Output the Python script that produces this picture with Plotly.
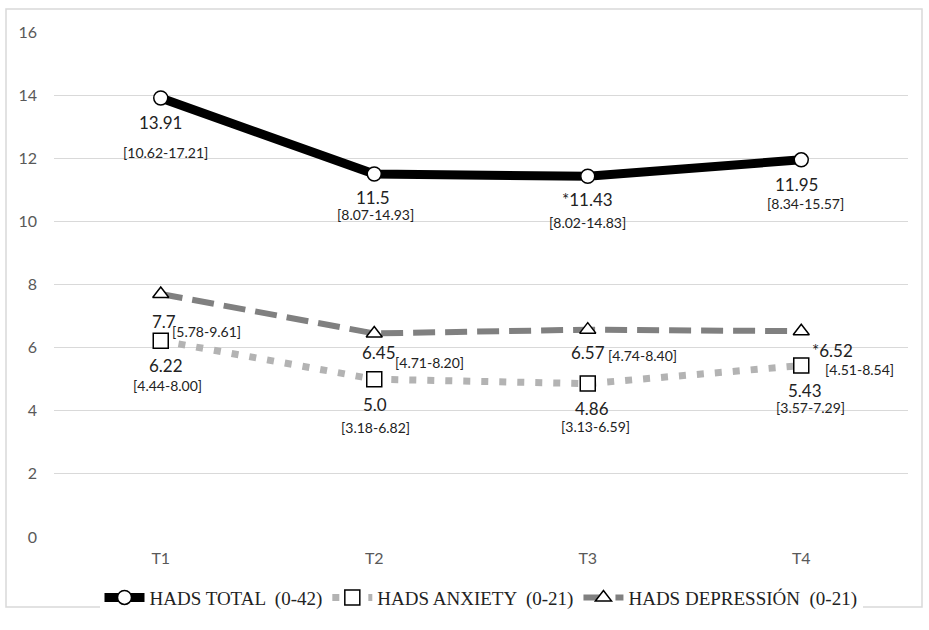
import plotly.graph_objects as go

# Time points and HADS scores
times = ["T1", "T2", "T3", "T4"]
total_vals = [13.91, 11.5, 11.43, 11.95]
anxiety_vals = [6.22, 5.0, 4.86, 5.43]
depression_vals = [7.7, 6.45, 6.57, 6.52]

total_text = ["13.91", "11.5", "*11.43", "11.95"]
anxiety_text = ["6.22", "5.0", "4.86", "5.43"]
depression_text = ["7.7", "6.45", "6.57", "*6.52"]

total_ci = ["[10.62-17.21]", "[8.07-14.93]", "[8.02-14.83]", "[8.34-15.57]"]
anxiety_ci = ["[4.44-8.00]", "[3.18-6.82]", "[3.13-6.59]", "[3.57-7.29]"]
depression_ci = ["[5.78-9.61]", "[4.71-8.20]", "[4.74-8.40]", "[4.51-8.54]"]

yticks = [0, 2, 4, 6, 8, 10, 12, 14, 16]

fig = go.Figure()

fig.add_trace(go.Scatter(
    x=times, y=total_vals, name="HADS TOTAL  (0-42)", mode="lines+markers",
    line=dict(color="black", width=9),
    marker=dict(symbol="circle", size=14, color="white", line=dict(color="black", width=1.5)),
    cliponaxis=False,
))
fig.add_trace(go.Scatter(
    x=times, y=anxiety_vals, name="HADS ANXIETY  (0-21)", mode="lines+markers",
    line=dict(color="#b3b3b3", width=7, dash="7px,11px"),
    marker=dict(symbol="square", size=15, color="white", line=dict(color="black", width=1.5)),
    cliponaxis=False,
))
fig.add_trace(go.Scatter(
    x=times, y=depression_vals, name="HADS DEPRESSIÓN  (0-21)", mode="lines+markers",
    line=dict(color="#808080", width=6, dash="22px,10px"),
    marker=dict(symbol="triangle-up", size=14, color="white", line=dict(color="black", width=1.5)),
    cliponaxis=False,
))

ann = []
lab_font = dict(family="Lato, Noto Sans, sans-serif", size=17, color="#222222")
ci_font = dict(family="Lato, Noto Sans, sans-serif", size=14, color="#222222")

def label(x, y, text, dx, dy, font):
    ann.append(dict(x=x, y=y, xref="x", yref="y", text=text, showarrow=False,
                    xshift=dx, yshift=dy, font=font))

# pixel offsets of (value label, interval label) relative to each point
total_off = [((0, -25), (5, -55)), ((-1, -23), (1, -40)), ((0, -23), (0, -46)), ((-5, -25), (4, -44))]
dep_off = [((3, -28), (46, -38)), ((5, -19), (55, -29)), ((0, -23), (55, -26)), ((31, -19), (58, -38))]
anx_off = [((5, -25), (7, -45)), ((1, -25), (1, -48)), ((4, -25), (8, -43)), ((4, -25), (9, -42))]

for i, t in enumerate(times):
    (a, b) = total_off[i]
    label(t, total_vals[i], total_text[i], a[0], a[1], lab_font)
    label(t, total_vals[i], total_ci[i], b[0], b[1], ci_font)
    (a, b) = dep_off[i]
    label(t, depression_vals[i], depression_text[i], a[0], a[1], lab_font)
    label(t, depression_vals[i], depression_ci[i], b[0], b[1], ci_font)
    (a, b) = anx_off[i]
    label(t, anxiety_vals[i], anxiety_text[i], a[0], a[1], lab_font)
    label(t, anxiety_vals[i], anxiety_ci[i], b[0], b[1], ci_font)

fig.update_layout(
    width=929, height=630,
    margin=dict(l=54, r=21, t=32, b=93),
    paper_bgcolor="white", plot_bgcolor="white",
    annotations=ann,
    showlegend=True,
    legend=dict(orientation="h", x=0.5, xanchor="center", y=-0.12, yanchor="middle",
                font=dict(family="Liberation Serif, Times New Roman, serif", size=19, color="#222222"),
                itemwidth=40, tracegroupgap=0),
    shapes=[dict(type="rect", xref="paper", yref="paper",
                 x0=(6 - 54) / 854, x1=(922 - 54) / 854,
                 y0=(537 - 607) / 505, y1=(537 - 9) / 505,
                 line=dict(color="#d9d9d9", width=1.5), fillcolor="rgba(0,0,0,0)", layer="below")],
    xaxis=dict(range=[-0.5, 3.5], showgrid=False, zeroline=False, showline=False, ticks="",
               ticklabelstandoff=10,
               tickfont=dict(family="Lato, Noto Sans, sans-serif", size=16, color="#595959")),
    yaxis=dict(range=[0, 16], tickvals=yticks, showgrid=True, gridcolor="#d9d9d9", gridwidth=1.2,
               zeroline=False, showline=False, ticks="", ticklabelstandoff=16,
               tickfont=dict(family="Lato, Noto Sans, sans-serif", size=16, color="#595959")),
)

fig.write_html("out.html")
